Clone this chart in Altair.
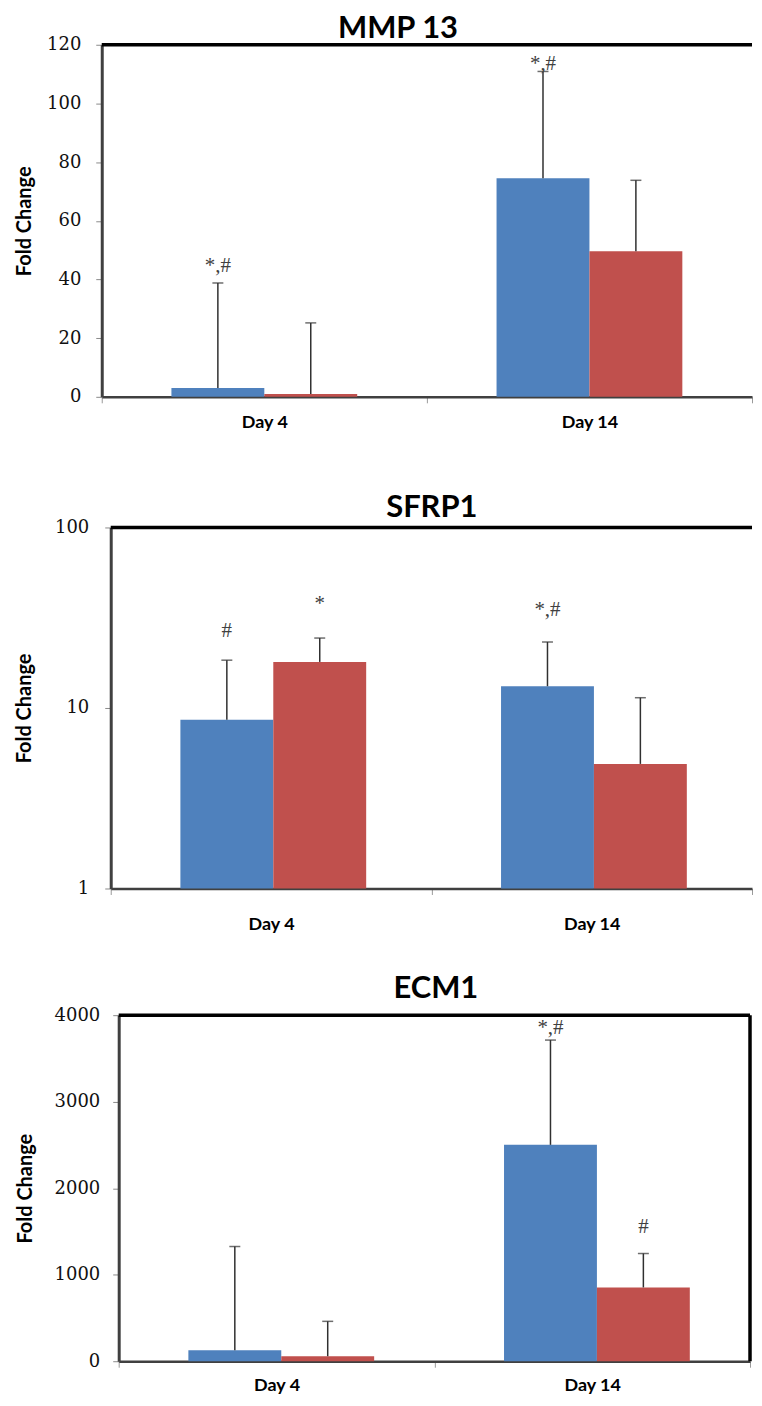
import altair as alt
import pandas as pd

# ---- data ----
days = ["Day 4", "Day 14"]
series = ["Series 1", "Series 2"]
colors = ["#4F81BD", "#C0504D"]

mmp13_blue = [3.0, 74.5]
mmp13_red = [1.0, 49.6]
mmp13_blue_up = [38.8, 110.9]
mmp13_red_up = [25.2, 73.8]
mmp13_ticks = [0, 20, 40, 60, 80, 100, 120]
mmp13_ann_day = ["Day 4", "Day 14"]
mmp13_ann_series = ["Series 1", "Series 1"]
mmp13_ann_text = ["*,#", "*,#"]
mmp13_ann_y = [44.6, 113.6]

sfrp1_blue = [8.6, 13.2]
sfrp1_red = [18.0, 4.9]
sfrp1_blue_up = [18.4, 23.2]
sfrp1_red_up = [24.4, 11.4]
sfrp1_ticks = [1, 10, 100]
sfrp1_ann_day = ["Day 4", "Day 4", "Day 14"]
sfrp1_ann_series = ["Series 1", "Series 2", "Series 1"]
sfrp1_ann_text = ["#", "*", "*,#"]
sfrp1_ann_y = [26.6, 37.6, 34.8]

ecm1_blue = [127, 2501]
ecm1_red = [58, 853]
ecm1_blue_up = [1326, 3712]
ecm1_red_up = [461, 1245]
ecm1_ticks = [0, 1000, 2000, 3000, 4000]
ecm1_ann_day = ["Day 14", "Day 14"]
ecm1_ann_series = ["Series 1", "Series 2"]
ecm1_ann_text = ["*,#", "#"]
ecm1_ann_y = [3850, 1556]


def make_df(blue, red, blue_up, red_up):
    rows = []
    for i, d in enumerate(days):
        rows.append(dict(day=d, series=series[0], value=blue[i], upper=blue_up[i]))
        rows.append(dict(day=d, series=series[1], value=red[i], upper=red_up[i]))
    return pd.DataFrame(rows)


def make_ann(ds, ss, ts, ys):
    return pd.DataFrame(dict(day=ds, series=ss, label=ts, ypos=ys))


def panel(name, df, ann, ticks, shift, pw, height, log, title_dx, title_offset, title_dy,
          ylab_pad, ytitle_pad, xlab_pad, x_extent, right_border):
    width = shift + pw
    if log:
        yscale = alt.Scale(type="log", domain=[ticks[0], ticks[-1]], nice=False)
    else:
        yscale = alt.Scale(domain=[ticks[0], ticks[-1]], nice=False, zero=True)
    yaxis = alt.Axis(
        title="Fold Change", titleFont="Lato", titleFontSize=20, titleFontWeight="bold",
        titleColor="#000000", titlePadding=ytitle_pad, offset=-shift,
        labelFont="DejaVu Serif", labelFontSize=18, labelColor="#111111",
        labelPadding=ylab_pad, values=ticks, format="d",
        tickSize=6, tickColor="#8a8a8a", tickWidth=1,
        domainColor="#404040", domainWidth=3, grid=False,
    )
    xaxis = alt.Axis(
        title=None, labelAngle=0, tickBand="extent",
        labelFont="Lato", labelFontSize=18, labelFontWeight="bold", labelColor="#000000",
        labelPadding=xlab_pad, tickSize=6, tickColor="#9a9a9a", tickWidth=1,
        domainColor="#404040", domainWidth=2.5, grid=False,
        minExtent=x_extent, maxExtent=x_extent,
    )
    x = alt.X("day:N", sort=days,
              scale=alt.Scale(paddingInner=0, paddingOuter=0, range=[shift, width]),
              axis=xaxis)
    x_plain = alt.X("day:N", sort=days)
    xo = alt.XOffset("series:N", sort=series,
                     scale=alt.Scale(paddingOuter=0.75, paddingInner=0))
    color = alt.Color("series:N", scale=alt.Scale(domain=series, range=colors), legend=None)

    base = alt.Chart(df)
    enc = dict(x=x, xOffset=xo, y=alt.Y("value:Q", scale=yscale, axis=yaxis), color=color)
    if log:
        enc["y2"] = alt.datum(1)
    bars = base.mark_bar(opacity=1).encode(**enc)
    err = base.mark_rule(color="#303030", strokeWidth=1.5).encode(
        x=x_plain, xOffset=xo, y="value:Q", y2="upper:Q")
    cap = base.mark_tick(color="#303030", thickness=1.5, size=11).encode(
        x=x_plain, xOffset=xo, y="upper:Q")
    txt = alt.Chart(ann).mark_text(font="Liberation Serif", fontSize=21, color="#404040",
                                   baseline="middle").encode(
        x=x_plain, xOffset=xo, y="ypos:Q", text="label:N")

    frame_data = pd.DataFrame({"k": [0]})
    top = alt.Chart(frame_data).mark_rule(color="#000000", strokeWidth=3.5).encode(
        x=alt.value(shift), x2=alt.value(width), y=alt.value(0))
    layers = [bars, err, cap, txt, top]
    if right_border:
        right = alt.Chart(frame_data).mark_rule(color="#000000", strokeWidth=3.5).encode(
            x=alt.value(width), y=alt.value(0), y2=alt.value(height))
        layers.append(right)

    return alt.layer(*layers).properties(
        width=width, height=height,
        title=alt.TitleParams(text=name, font="Lato", fontSize=31, fontWeight="bold",
                              color="#000000", anchor="middle", dx=title_dx,
                              dy=title_dy, offset=title_offset),
    )


p1 = panel("MMP 13", make_df(mmp13_blue, mmp13_red, mmp13_blue_up, mmp13_red_up),
           make_ann(mmp13_ann_day, mmp13_ann_series, mmp13_ann_text, mmp13_ann_y),
           mmp13_ticks, 0, 652, 353, False, -29, -4, 5, 15, 11.7, 11, 96, False)
p2 = panel("SFRP1", make_df(sfrp1_blue, sfrp1_red, sfrp1_blue_up, sfrp1_red_up),
           make_ann(sfrp1_ann_day, sfrp1_ann_series, sfrp1_ann_text, sfrp1_ann_y),
           sfrp1_ticks, 9, 643, 362, True, 5, -4, 2, 16, 19.7, 21, 85, False)
p3 = panel("ECM1", make_df(ecm1_blue, ecm1_red, ecm1_blue_up, ecm1_red_up),
           make_ann(ecm1_ann_day, ecm1_ann_series, ecm1_ann_text, ecm1_ann_y),
           ecm1_ticks, 17, 633, 347, False, 10, 4, 3, 13, 18.2, 9, 30, True)

chart = alt.vconcat(p1, p2, p3, spacing=0).properties(
    padding={"left": 6, "top": 3, "right": 0, "bottom": 0},
    background="white",
).configure_view(stroke=None)

chart.save("out.html", embed_options={"renderer": "svg", "actions": False})
